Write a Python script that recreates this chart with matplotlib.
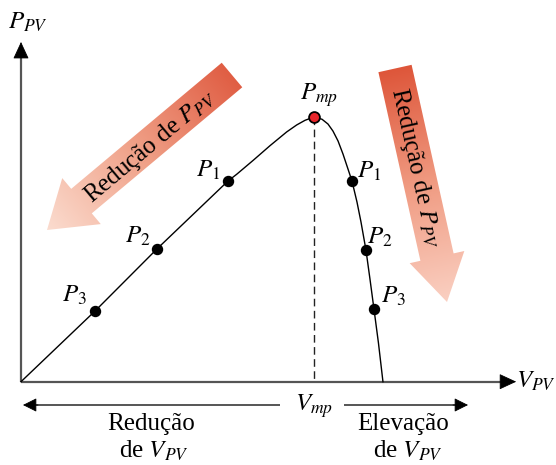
import numpy as np
import matplotlib
matplotlib.use("Agg")
import matplotlib.pyplot as plt
from matplotlib.patches import Polygon
from matplotlib.transforms import Affine2D

plt.rcParams["font.family"] = ["Liberation Serif", "DejaVu Serif"]
plt.rcParams["mathtext.fontset"] = "stix"

# P-V curve of the panel (V in volts, P in watts)
v_curve = [0.00, 7.58, 13.92, 21.19, 22.08, 23.78, 25.49, 27.20, 28.23, 29.08, 30.00,
           30.82, 31.43, 31.94, 32.46, 32.97, 33.48, 33.89, 34.40, 34.81, 35.32, 35.73,
           36.14, 36.60, 37.06]
p_curve = [0.0, 53.4, 100.3, 151.6, 156.7, 167.3, 178.3, 188.7, 194.0, 197.5, 200.0,
           198.3, 194.7, 189.4, 181.9, 172.0, 160.7, 151.6, 135.8, 120.7, 99.5, 77.6,
           54.9, 29.2, 0.0]

# operating points on each side of the maximum
v_left = [21.19, 13.92, 7.58]
p_left = [151.6, 100.3, 53.4]
v_right = [33.89, 35.32, 36.14]
p_right = [151.6, 99.5, 54.9]
point_names = ["$P_1$", "$P_2$", "$P_3$"]
v_mp, p_mp = 30.0, 200.0

# axis extents
v_axis_end = 50.7
p_axis_end = 256.7

W, H = 556, 465
fig = plt.figure(figsize=(W / 100, H / 100), dpi=100)
ax = fig.add_axes([0, 0, 1, 1])
ax.axis("off")

# image pixel coordinates (y pointing down) for the decorations
pix = Affine2D().scale(1 / 100, -1 / 100).translate(0, H / 100) + fig.dpi_scale_trans


def arrow_verts(tail, tip, half_shaft, half_head, head_len):
    tail = np.array(tail, float)
    tip = np.array(tip, float)
    u = (tip - tail) / np.linalg.norm(tip - tail)
    n = np.array([-u[1], u[0]])
    base = tip - head_len * u
    return np.array([tail + half_shaft * n, base + half_shaft * n, base + half_head * n,
                     tip, base - half_head * n, base - half_shaft * n, tail - half_shaft * n])


def gradient_arrow(tail, tip, half_shaft, half_head, head_len, colors):
    verts = arrow_verts(tail, tip, half_shaft, half_head, head_len)
    x0, y0 = np.floor(verts.min(axis=0)) - 2
    x1, y1 = np.ceil(verts.max(axis=0)) + 2
    xs = np.arange(x0, x1 + 1)
    ys = np.arange(y0, y1 + 1)
    X, Y = np.meshgrid(xs, ys)
    d = np.array(tip, float) - np.array(tail, float)
    t = ((X - tail[0]) * d[0] + (Y - tail[1]) * d[1]) / (d @ d)
    t = np.clip(t, 0, 1)
    stops = np.linspace(0, 1, len(colors))
    cols = np.array(colors, float) / 255
    img = np.dstack([np.interp(t, stops, cols[:, k]) for k in range(3)])
    patch = Polygon(verts, closed=True, transform=pix, facecolor="none", edgecolor="none")
    im = ax.imshow(img, extent=(x0, x1, y1, y0), transform=pix, origin="upper",
                   interpolation="bilinear", zorder=1)
    im.set_clip_path(patch)


gradient_arrow((232, 75), (47, 230), 16, 30, 45,
               [(224, 94, 68), (240, 160, 135), (251, 220, 207)])
gradient_arrow((395, 68.5), (447, 302), 17, 28, 46,
               [(222, 86, 58), (240, 155, 130), (250, 208, 194)])

ax.text(150, 146, "Redução de $P_{PV}$", transform=pix, rotation=40, rotation_mode="anchor",
        ha="center", va="center", fontsize=18, zorder=2)
ax.text(416, 168, "Redução de $P_{PV}$", transform=pix, rotation=-77.4, rotation_mode="anchor",
        ha="center", va="center", fontsize=18, zorder=2)

# axes with arrow heads
axis_grey = "#555555"
ax.plot([0, v_axis_end - 1.2], [0, 0], color=axis_grey, lw=1.6, zorder=3, solid_capstyle="butt")
ax.plot([0, 0], [0, p_axis_end - 8], color=axis_grey, lw=1.6, zorder=3, solid_capstyle="butt")
head = dict(arrowstyle="-|>,head_length=1.08,head_width=0.5", color="black", lw=0.6,
            shrinkA=0, shrinkB=0)
ax.annotate("", xy=(v_axis_end, 0), xytext=(v_axis_end - 1.5, 0), arrowprops=head, zorder=4)
ax.annotate("", xy=(0, p_axis_end), xytext=(0, p_axis_end - 11), arrowprops=head, zorder=4)

# P-V curve, marked points and maximum power point
ax.plot(v_curve, p_curve, color="black", lw=1.0, zorder=5)
ax.plot([v_mp, v_mp], [p_mp, 0], color="#222222", lw=1.0, dashes=(5.5, 3.2), zorder=4)
ax.plot(v_left + v_right, p_left + p_right, "o", color="black", ms=7.2, zorder=6)
ax.plot([v_mp], [p_mp], "o", mfc="#e8252b", mec="black", mew=1.3, ms=7.8, zorder=7)

left_offsets = [(-14, 8), (-14, 9), (-15, 11)]
right_offsets = [(12, 7), (10, 9), (14, 9)]
for name, v, p, off in zip(point_names, v_left, p_left, left_offsets):
    ax.annotate(name, (v, p), xytext=off, textcoords="offset points",
                ha="center", va="center", fontsize=18, zorder=8)
for name, v, p, off in zip(point_names, v_right, p_right, right_offsets):
    ax.annotate(name, (v, p), xytext=off, textcoords="offset points",
                ha="center", va="center", fontsize=18, zorder=8)
ax.annotate("$P_{mp}$", (v_mp, p_mp), xytext=(4, 16), textcoords="offset points",
            ha="center", va="center", fontsize=18, zorder=8)

# axis labels
ax.text(28, 22, "$P_{PV}$", transform=pix, ha="center", va="center", fontsize=18)
ax.text(536, 381, "$V_{PV}$", transform=pix, ha="center", va="center", fontsize=18)

# voltage direction arrows below the axis: grey shafts, black heads
ax.plot([34, 280], [405, 405], color=axis_grey, lw=1.4, transform=pix, solid_capstyle="butt")
ax.plot([344, 457], [405, 405], color=axis_grey, lw=1.4, transform=pix, solid_capstyle="butt")
small_head = dict(arrowstyle="-|>,head_length=0.86,head_width=0.43", color="black",
                  lw=0.6, shrinkA=0, shrinkB=0)
ax.annotate("", xy=(23, 405), xytext=(38, 405), xycoords=pix, textcoords=pix,
            arrowprops=small_head)
ax.annotate("", xy=(468, 405), xytext=(453, 405), xycoords=pix, textcoords=pix,
            arrowprops=small_head)
ax.text(314, 406, "$V_{mp}$", transform=pix, ha="center", va="center", fontsize=18)
ax.text(151, 424, "Redução", transform=pix, ha="center", va="center", fontsize=18)
ax.text(154, 451, "de $V_{PV}$", transform=pix, ha="center", va="center", fontsize=18)
ax.text(403, 424, "Elevação", transform=pix, ha="center", va="center", fontsize=18)
ax.text(408, 451, "de $V_{PV}$", transform=pix, ha="center", va="center", fontsize=18)

# origin of the axes sits at pixel (21, 381.7)
kv, kp = 293 / 30, (381.7 - 117.0) / 200
ax.set_aspect("auto")
ax.set_xlim(-21 / kv, (W - 21) / kv)
ax.set_ylim(-(H - 381.7) / kp, 381.7 / kp)

fig.savefig("out.png", dpi=100)
